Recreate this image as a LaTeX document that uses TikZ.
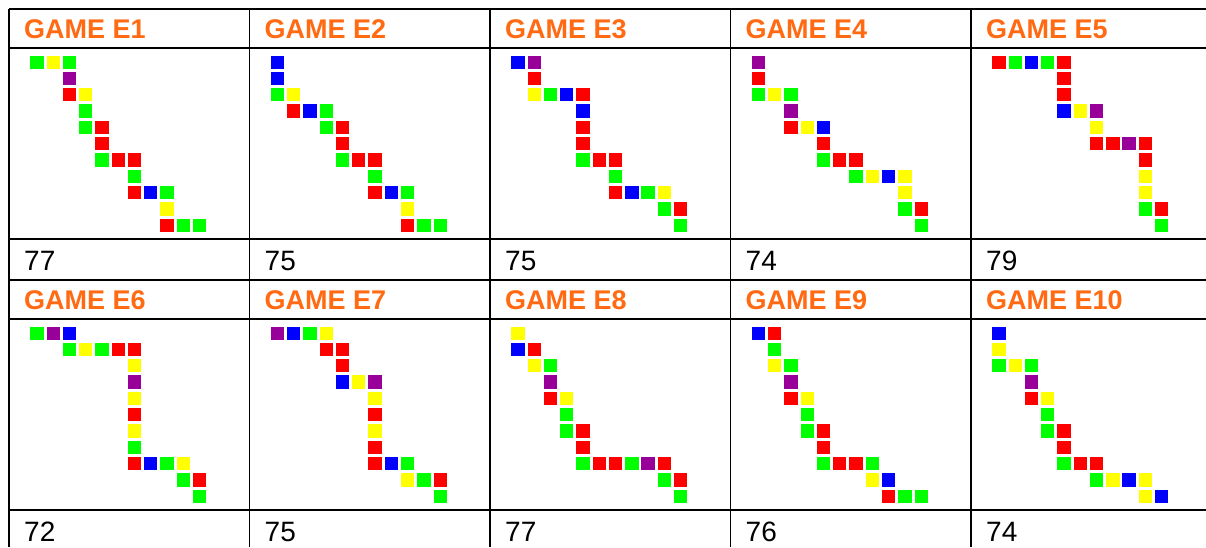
\documentclass[tikz,border=0pt]{standalone}
\usepackage{fontspec}
\setmainfont{Liberation Sans}
\definecolor{gG}{RGB}{0,255,0}
\definecolor{gY}{RGB}{255,255,0}
\definecolor{gB}{RGB}{0,0,255}
\definecolor{gR}{RGB}{255,0,0}
\definecolor{gP}{RGB}{153,0,153}
\definecolor{hdr}{RGB}{255,106,19}
\newcommand\gamesq[4]{%
  \foreach \c/\r/\k [count=\i] in {#4} {
    \node[sq=g\k] (#3s\i) at ({#1+21.3+\c*16.27},{#2+7.5+\r*16.3}) {};
  }}
\begin{document}
\begin{tikzpicture}[x=1pt,y=-1pt,
  sq/.style={fill=#1,draw=none,anchor=north west,minimum size=13.3pt,inner sep=0pt,outer sep=0pt},
  hdrtext/.style={anchor=base west,inner sep=0pt,text=hdr,font=\fontsize{27}{31}\selectfont\bfseries},
  numtext/.style={anchor=base west,inner sep=0pt,text=black,font=\fontsize{28}{32}\selectfont},
  grid/.style={line width=1.3pt,black}]
\useasboundingbox (0,0) rectangle (1206,547);
\fill[white] (0,0) rectangle (1206,547);
% table lines
\foreach \yy in {9,48,239,280,319,510}
  \draw[grid] (9,\yy) coordinate (hl\yy) -- (1206,\yy);
\foreach \xx in {9,249.5,490,730.5,971}
  \draw[grid] (\xx,9) -- (\xx,547);
% headers and numbers
\foreach \xx/\t/\n [count=\j] in {9/1/77,249.5/2/75,490/3/75,730.5/4/74,971/5/79}
  {\node[hdrtext] (h\j) at (\xx+15,38.3) {GAME E\t};
   \node[numtext] (n\j) at (\xx+15,270) {\n};}
\foreach \xx/\t/\n [count=\j from 6] in {9/6/72,249.5/7/75,490/8/77,730.5/9/76,971/10/74}
  {\node[hdrtext] (h\j) at (\xx+15,309.3) {GAME E\t};
   \node[numtext] (n\j) at (\xx+15,541) {\n};}
% games
\gamesq{9}{48}{eA}{0/0/G,1/0/Y,2/0/G,2/1/P,2/2/R,3/2/Y,3/3/G,3/4/G,4/4/R,4/5/R,4/6/G,5/6/R,6/6/R,6/7/G,6/8/R,7/8/B,8/8/G,8/9/Y,8/10/R,9/10/G,10/10/G}
\gamesq{249.5}{48}{eB}{0/0/B,0/1/B,0/2/G,1/2/Y,1/3/R,2/3/B,3/3/G,3/4/G,4/4/R,4/5/R,4/6/G,5/6/R,6/6/R,6/7/G,6/8/R,7/8/B,8/8/G,8/9/Y,8/10/R,9/10/G,10/10/G}
\gamesq{490}{48}{eC}{0/0/B,1/0/P,1/1/R,1/2/Y,2/2/G,3/2/B,4/2/R,4/3/B,4/4/R,4/5/R,4/6/G,5/6/R,6/6/R,6/7/G,6/8/R,7/8/B,8/8/G,9/8/Y,9/9/G,10/9/R,10/10/G}
\gamesq{730.5}{48}{eD}{0/0/P,0/1/R,0/2/G,1/2/Y,2/2/G,2/3/P,2/4/R,3/4/Y,4/4/B,4/5/R,4/6/G,5/6/R,6/6/R,6/7/G,7/7/Y,8/7/B,9/7/Y,9/8/Y,9/9/G,10/9/R,10/10/G}
\gamesq{971}{48}{eE}{0/0/R,1/0/G,2/0/B,3/0/G,4/0/R,4/1/R,4/2/R,4/3/B,5/3/Y,6/3/P,6/4/Y,6/5/R,7/5/R,8/5/P,9/5/R,9/6/R,9/7/Y,9/8/Y,9/9/G,10/9/R,10/10/G}
\gamesq{9}{319}{eF}{0/0/G,1/0/P,2/0/B,2/1/G,3/1/Y,4/1/G,5/1/R,6/1/R,6/2/Y,6/3/P,6/4/Y,6/5/R,6/6/Y,6/7/G,6/8/R,7/8/B,8/8/G,9/8/Y,9/9/G,10/9/R,10/10/G}
\gamesq{249.5}{319}{eG}{0/0/P,1/0/B,2/0/G,3/0/Y,3/1/R,4/1/R,4/2/R,4/3/B,5/3/Y,6/3/P,6/4/Y,6/5/R,6/6/Y,6/7/R,6/8/R,7/8/B,8/8/G,8/9/Y,9/9/G,10/9/R,10/10/G}
\gamesq{490}{319}{eH}{0/0/Y,0/1/B,1/1/R,1/2/Y,2/2/G,2/3/P,2/4/R,3/4/Y,3/5/G,3/6/G,4/6/R,4/7/R,4/8/G,5/8/R,6/8/R,7/8/G,8/8/P,9/8/R,9/9/G,10/9/R,10/10/G}
\gamesq{730.5}{319}{eI}{0/0/B,1/0/R,1/1/G,1/2/Y,2/2/G,2/3/P,2/4/R,3/4/Y,3/5/G,3/6/G,4/6/R,4/7/R,4/8/G,5/8/R,6/8/R,7/8/G,7/9/Y,8/9/B,8/10/R,9/10/G,10/10/G}
\gamesq{971}{319}{eJ}{0/0/B,0/1/Y,0/2/G,1/2/Y,2/2/G,2/3/P,2/4/R,3/4/Y,3/5/G,3/6/G,4/6/R,4/7/R,4/8/G,5/8/R,6/8/R,6/9/G,7/9/Y,8/9/B,9/9/Y,9/10/Y,10/10/B}
\end{tikzpicture}
\end{document}
